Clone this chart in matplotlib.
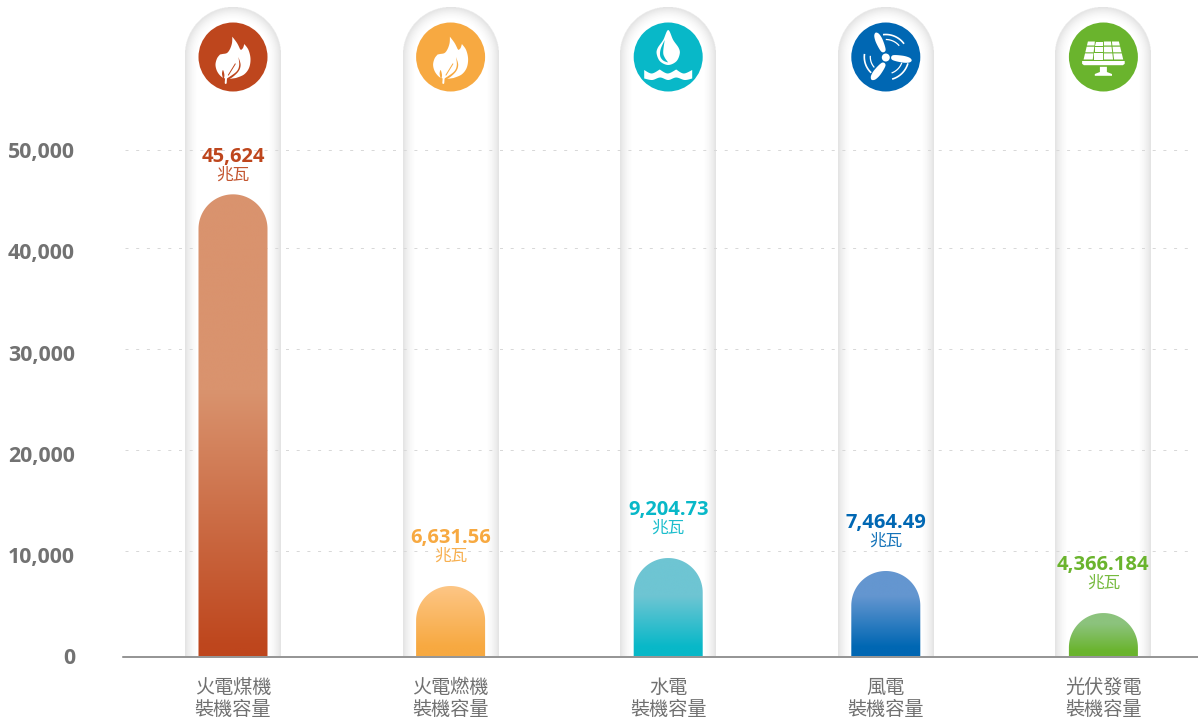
import numpy as np
import matplotlib
matplotlib.use("Agg")
import matplotlib.pyplot as plt
from matplotlib.patches import Polygon, Circle

categories = ["火電煤機\n裝機容量", "火電燃機\n裝機容量", "水電\n裝機容量", "風電\n裝機容量", "光伏發電\n裝機容量"]
bar_values = [45624, 6960, 9720, 8440, 4290]
value_labels = ["45,624", "6,631.56", "9,204.73", "7,464.49", "4,366.184"]
unit_label = "兆瓦"
y_ticks = [0, 10000, 20000, 30000, 40000, 50000]
y_tick_labels = ["0", "10,000", "20,000", "30,000", "40,000", "50,000"]
grid_values = [10415, 20385, 30355, 40326, 50000]
colors = ["#BE461D", "#F7A941", "#08B8C8", "#0067B3", "#6AB42D"]
top_colors = ["#D9936E", "#FDC686", "#6EC5D3", "#6496D0", "#8CC37D"]
fade_lengths_px = [265, 70, 60, 60, 32]
icon_kinds = ["flame", "flame", "water", "wind", "solar"]

W, H = 1198, 723
PX_BASE = 656.5
PX_PER_Y = 101.3 / 10000
PX_PER_X = 217.6
X0 = 233.0
AX_L = 123.0
CJK = "Noto Sans CJK TC"
LATIN = "Open Sans"

fig = plt.figure(figsize=(W / 100, H / 100), dpi=100, facecolor="white")
ax = fig.add_axes([AX_L / W, (H - PX_BASE) / H, (W - AX_L) / W, PX_BASE / H])
xlim = ((AX_L - X0) / PX_PER_X, (W - X0) / PX_PER_X)
ylim = (0, PX_BASE / PX_PER_Y)


def capsule(cx, r_px, top_data, n=60):
    rx = r_px / PX_PER_X
    ry = r_px / PX_PER_Y
    t = np.linspace(np.pi, 0, n)
    xs = cx + rx * np.cos(t)
    ys = top_data - ry + ry * np.sin(t)
    return np.column_stack([np.r_[cx - rx, xs, cx + rx], np.r_[0, ys, 0]])


def track_image(r_px=48.0, top_px=8.0, ss=2):
    w = int(2 * r_px * ss)
    h = int((PX_BASE + 1.5 - top_px) * ss)
    xx = (np.arange(w) + .5) / ss - r_px
    yy = (np.arange(h) + .5) / ss
    X, Y = np.meshgrid(xx, yy)
    Yc = np.maximum(r_px - Y, 0)
    d = r_px - np.hypot(X, Yc)
    a = np.clip(1 - d / 14.0, 0, 1) ** 1.8 * 0.15
    img = np.zeros((h, w, 4))
    img[..., :3] = 0.25
    img[..., 3] = a
    img[d < 0] = 0
    return img


for i in range(len(categories)):
    rx = 48 / PX_PER_X
    ax.imshow(track_image(), extent=(i - rx, i + rx, -1.5 / PX_PER_Y, (PX_BASE - 8) / PX_PER_Y),
              aspect="auto", interpolation="bilinear", zorder=1)

ax.hlines(grid_values, (125 - X0) / PX_PER_X, (1191 - X0) / PX_PER_X, color="#d8d8d8",
          lw=0.72, linestyles=(0, (3, 7.7)), zorder=2)

for i, (v, c) in enumerate(zip(bar_values, colors)):
    outline = capsule(i, 34.5, v)
    bottom = np.array(matplotlib.colors.to_rgb(c))
    top = np.array(matplotlib.colors.to_rgb(top_colors[i]))
    hpx = v * PX_PER_Y
    L = fade_lengths_px[i]
    s = np.linspace(hpx, 0, 512)
    s0 = min(9, 0.15 * L)
    f = np.clip((s - s0) / (L - s0), 0, 1)[:, None, None]
    img = bottom[None, None, :] * (1 - f) + top[None, None, :] * f
    im = ax.imshow(img, extent=(i - .2, i + .2, 0, v), aspect="auto", zorder=3,
                   interpolation="bilinear")
    patch = Polygon(outline, closed=True, transform=ax.transData, fc="none", ec="none")
    ax.add_patch(patch)
    im.set_clip_path(patch)

    gap = 37 if i == 0 else 48
    ax.annotate(value_labels[i], xy=(i, v), xytext=(0, gap * .72), textcoords="offset points",
                ha="center", va="center", color=c, fontsize=14.5, fontweight="bold",
                family=LATIN, zorder=5)
    ax.annotate(unit_label, xy=(i, v), xytext=(0, (gap - 18) * .72), textcoords="offset points",
                ha="center", va="center", color=c, fontsize=12.0, fontweight="medium", family=CJK,
                zorder=5, alpha=.92)

ax.set_xlim(*xlim)
ax.set_ylim(*ylim)
ax.patch.set_alpha(0)
for s in ["top", "left", "right"]:
    ax.spines[s].set_visible(False)
ax.spines["bottom"].set_color("#777777")
ax.spines["bottom"].set_linewidth(1.1)
ax.spines["bottom"].set_zorder(6)
ax.set_yticks(y_ticks, y_tick_labels)
ax.set_xticks(range(len(categories)), categories)
ax.tick_params(axis="y", length=0, pad=34.5, labelsize=15.4, labelcolor="#727272")
ax.tick_params(axis="x", length=0, pad=14.8, labelsize=13.8, labelcolor="#707070")
for t in ax.get_yticklabels():
    t.set_family(LATIN)
    t.set_fontweight("bold")
for t in ax.get_xticklabels():
    t.set_family(CJK)
    t.set_fontweight("light")
    t.set_linespacing(1.07)

ov = fig.add_axes([0, 0, 1, 1])
ov.set_xlim(0, W)
ov.set_ylim(H, 0)
ov.axis("off")
ov.patch.set_alpha(0)


def smooth(pts, closed=True, k=12):
    p = np.asarray(pts, float)
    n = len(p)
    out = []
    rng = range(n) if closed else range(n - 1)
    for i in rng:
        if closed:
            p0, p1, p2, p3 = p[(i - 1) % n], p[i], p[(i + 1) % n], p[(i + 2) % n]
        else:
            p0, p1, p2, p3 = p[max(i - 1, 0)], p[i], p[i + 1], p[min(i + 2, n - 1)]
        for t in np.linspace(0, 1, k, endpoint=False):
            out.append(.5 * (2 * p1 + (p2 - p0) * t + (2 * p0 - 5 * p1 + 4 * p2 - p3) * t ** 2
                             + (3 * p1 - p0 - 3 * p2 + p3) * t ** 3))
    if not closed:
        out.append(p[-1])
    return np.array(out)


def fill(c, pts, color="white", z=8):
    ov.add_patch(Polygon(np.asarray(pts) + c, closed=True, fc=color, ec="none", zorder=z))


def flame(c, col):
    outline = np.vstack([
        smooth([(-0.7, -20.3), (4, -14), (7, -8)], closed=False, k=6),
        smooth([(8, -7), (10, -9), (11.3, -13)], closed=False, k=4),
        smooth([(11.3, -13), (15.5, -7), (17.5, 2), (16, 11), (11, 17.5), (3, 21)], closed=False),
        smooth([(-4, 22), (-10.5, 20.5), (-15.5, 15), (-17.5, 8), (-16, 1.5), (-13, -2.5)], closed=False),
        smooth([(-13, -2.5), (-10.5, -3), (-6, -4), (-3, -8), (-1, -14), (-0.7, -20.3)], closed=False, k=6),
    ])
    fill(c, outline)
    # coloured cut along the leaf's right and lower edge, plus the stem gap
    cut = np.vstack([
        smooth([(5.4, 0), (7.6, 8), (5, 15), (-3, 21.8), (-8.5, 22.5)], closed=False),
        smooth([(-8.5, 22.5), (-3.5, 19.8), (3.8, 14.2), (6.2, 8), (5.4, 0)], closed=False),
    ])
    fill(c, cut, col, 9)
    fill(c, smooth([(-10, 13), (-11, 17), (-9.5, 22), (-8.6, 18)], k=6), col, 9)
    ov.plot(*(np.array([(-7.3, 26), (-7, 21.5), (-4.6, 17)]) + c).T, color="white", lw=1.4, zorder=10,
            solid_capstyle="round")
    ov.plot(*(np.array([(-4.6, 18), (-1.5, 13), (2.2, 7)]) + c).T, color=col, lw=.7, zorder=11)


def water(c, col):
    fill(c, smooth([(0, -27), (-5, -17), (-10.5, -9), (-11.5, -3), (-8, 4.5), (0, 8), (8, 4.5), (11.5, -3),
                    (10.5, -9), (5, -17)], k=10))
    crescent = np.vstack([smooth([(-3.5, -17), (-7.5, -8), (-8, -1), (-5, 3.5), (0, 5.5)], closed=False),
                          smooth([(0, 5.5), (-3.5, 0.5), (-5, -5), (-3.5, -17)], closed=False)])
    fill(c, crescent, col, 9)
    top = smooth([(-24, 13), (-16.5, 16.5), (-8.5, 12.5)], closed=False)
    top2 = smooth([(-8.5, 12.5), (-0.5, 16.5), (8, 12.5)], closed=False)
    top3 = smooth([(8, 12.5), (15.5, 16.5), (24, 13)], closed=False)
    bot = smooth([(24, 21.5), (16.5, 23), (8, 20.5), (0, 23), (-8, 20.5), (-16, 23), (-24, 21.5)], closed=False)
    fill(c, np.vstack([top, top2, top3, bot]))


def wind(c, col):
    ov.add_patch(Circle(c + np.array([0, 0.5]), 4.0, fc="white", ec="none", zorder=8))
    blades = [((-2.2, -6), (-10, -24), 3.6), ((6.5, 0.5), (25.5, 3.5), 3.4), ((-2, 7), (-14, 22.5), 3.8)]
    for base, tip, w in blades:
        b, t = np.array(base, float), np.array(tip, float)
        d = (t - b) / np.hypot(*(t - b))
        n = np.array([-d[1], d[0]])
        L = np.hypot(*(t - b))
        pts = [b + n * 2.2, b + d * L * .5 + n * w, b + d * L * .85 + n * w * .8, t + n * 1.0, t - n * 1.0,
               b + d * L * .85 - n * w * .8, b + d * L * .5 - n * w, b - n * 2.2]
        fill(c, smooth(pts, k=8))
    for r, a0, a1, lw in [(22.5, -95, -38, 1.2), (17.5, -88, -42, .9), (23, 18, 72, 1.2), (17, 22, 68, .9),
                          (21.5, 135, 186, 1.2), (15.5, 140, 182, .9)]:
        t = np.radians(np.linspace(a0, a1, 30))
        ov.plot(c[0] + r * np.cos(t), c[1] + r * np.sin(t), color="white", lw=lw, zorder=8)


def solar(c, col):
    rows = [(-15.5, -11.5), (-10.3, -4.7), (-3.6, 2.5)]
    hw = lambda y: 16 + (y + 15.5) * 0.24
    g = .5
    for y0, y1 in rows:
        for j in range(4):
            a0, a1 = -1 + j * .5, -1 + (j + 1) * .5
            fill(c, [(hw(y0) * a0 + g, y0), (hw(y0) * a1 - g, y0), (hw(y1) * a1 - g, y1), (hw(y1) * a0 + g, y1)])
    fill(c, [(-21.3, 4), (21.3, 4), (21.3, 6.8), (19.5, 8.2), (-19.5, 8.2), (-21.3, 6.8)])
    fill(c, [(-3.5, 9.8), (3.5, 9.8), (3.5, 15), (8.6, 17), (8.6, 18.8), (-8.6, 18.8), (-8.6, 17), (-3.5, 15)])


draw = {"flame": flame, "water": water, "wind": wind, "solar": solar}
for i, (kind, col) in enumerate(zip(icon_kinds, colors)):
    c = np.array([X0 + i * PX_PER_X, 57.0])
    ov.add_patch(Circle(c, 34.5, fc=col, ec="none", zorder=7))
    draw[kind](c, col)

fig.savefig("out.png", dpi=100)
